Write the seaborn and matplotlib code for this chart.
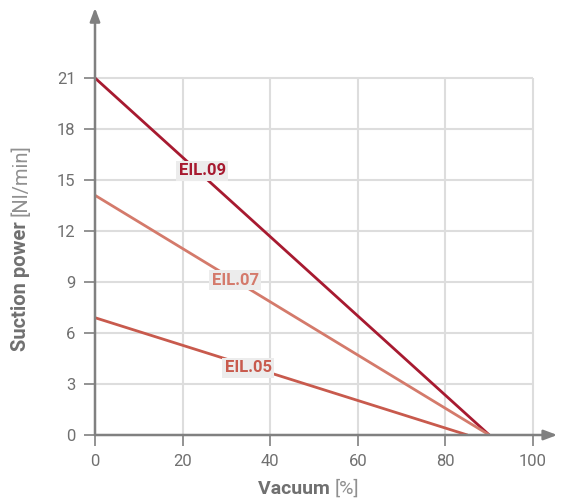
import matplotlib
matplotlib.use("Agg")
import matplotlib.pyplot as plt
import pandas as pd
import seaborn as sns

# data
series = ["EIL.09", "EIL.07", "EIL.05"]
vacuum_09 = [0, 90]
power_09 = [21, 0]
vacuum_07 = [0, 90]
power_07 = [14.1, 0]
vacuum_05 = [0, 85]
power_05 = [6.9, 0]
x_ticks = [0, 20, 40, 60, 80, 100]
y_ticks = [0, 3, 6, 9, 12, 15, 18, 21]
label_pos = {"EIL.09": (24.5, 15.55), "EIL.07": (32, 9.1), "EIL.05": (35, 3.95)}
colors = {"EIL.09": "#a71a30", "EIL.07": "#d47a6b", "EIL.05": "#c85a4d"}

df = pd.concat([
    pd.DataFrame({"Vacuum": vacuum_09, "Power": power_09, "Series": "EIL.09"}),
    pd.DataFrame({"Vacuum": vacuum_07, "Power": power_07, "Series": "EIL.07"}),
    pd.DataFrame({"Vacuum": vacuum_05, "Power": power_05, "Series": "EIL.05"}),
])

sns.set_style("white")
plt.rcParams["font.family"] = ["Roboto", "DejaVu Sans"]
grey = "#808080"

fig = plt.figure(figsize=(5.61, 5.03), dpi=100)
ax = fig.add_axes([95 / 561, 68 / 503, 460 / 561, 425 / 503])

# grid box only up to last ticks
ax.hlines(y_ticks[1:], x_ticks[0], x_ticks[-1], color="#dddddd", lw=1.5, zorder=0)
ax.vlines(x_ticks[1:], y_ticks[0], y_ticks[-1], color="#dddddd", lw=1.5, zorder=0)

sns.lineplot(data=df, x="Vacuum", y="Power", hue="Series", palette=colors,
             linewidth=2, legend=False, ax=ax, zorder=3)

for name in series:
    x, y = label_pos[name]
    ax.text(x, y, name, color=colors[name], fontsize=12, fontweight="bold",
            ha="center", va="center", zorder=4,
            bbox=dict(boxstyle="square,pad=0.15", fc="#ececec", ec="none"))

ax.set_xlim(0, 105)
ax.set_ylim(0, 25)
ax.set_xticks(x_ticks)
ax.set_yticks(y_ticks)
ax.tick_params(axis="both", colors=grey, labelcolor="#707070", labelsize=12,
               length=8, width=1.2, direction="out", pad=6,
               bottom=True, left=True)
for s in ax.spines.values():
    s.set_visible(False)
ax.set_xlabel("")
ax.set_ylabel("")

# axes with arrow heads
arrow = dict(arrowstyle="-|>,head_length=0.8,head_width=0.3", color=grey, lw=1.8,
             shrinkA=0, shrinkB=0)
ax.annotate("", xy=(0, 1.005), xytext=(0, 0), xycoords="axes fraction",
            arrowprops=arrow, annotation_clip=False)
ax.annotate("", xy=(1.005, 0), xytext=(0, 0), xycoords="axes fraction",
            arrowprops=arrow, annotation_clip=False)

# axis titles: bold part + light unit part
fig.canvas.draw()
r = fig.canvas.get_renderer()
t1 = fig.text(258 / 561, 1 - 489 / 503, "Vacuum ", fontsize=14, fontweight="bold",
              color="#707070", ha="left", va="center")
bb = t1.get_window_extent(r)
fig.text(bb.x1 / 561, 1 - 489 / 503, "[%]", fontsize=14, color="#909090",
         ha="left", va="center")
t2 = fig.text(21 / 561, 1 - 351 / 503, "Suction power ", fontsize=14.5, fontweight="bold",
              color="#707070", rotation=90, ha="center", va="bottom")
bb = t2.get_window_extent(r)
fig.text(21 / 561, bb.y1 / 503, "[Nl/min]", fontsize=14.5, color="#909090",
         rotation=90, ha="center", va="bottom")

fig.savefig("out.png", dpi=100)
